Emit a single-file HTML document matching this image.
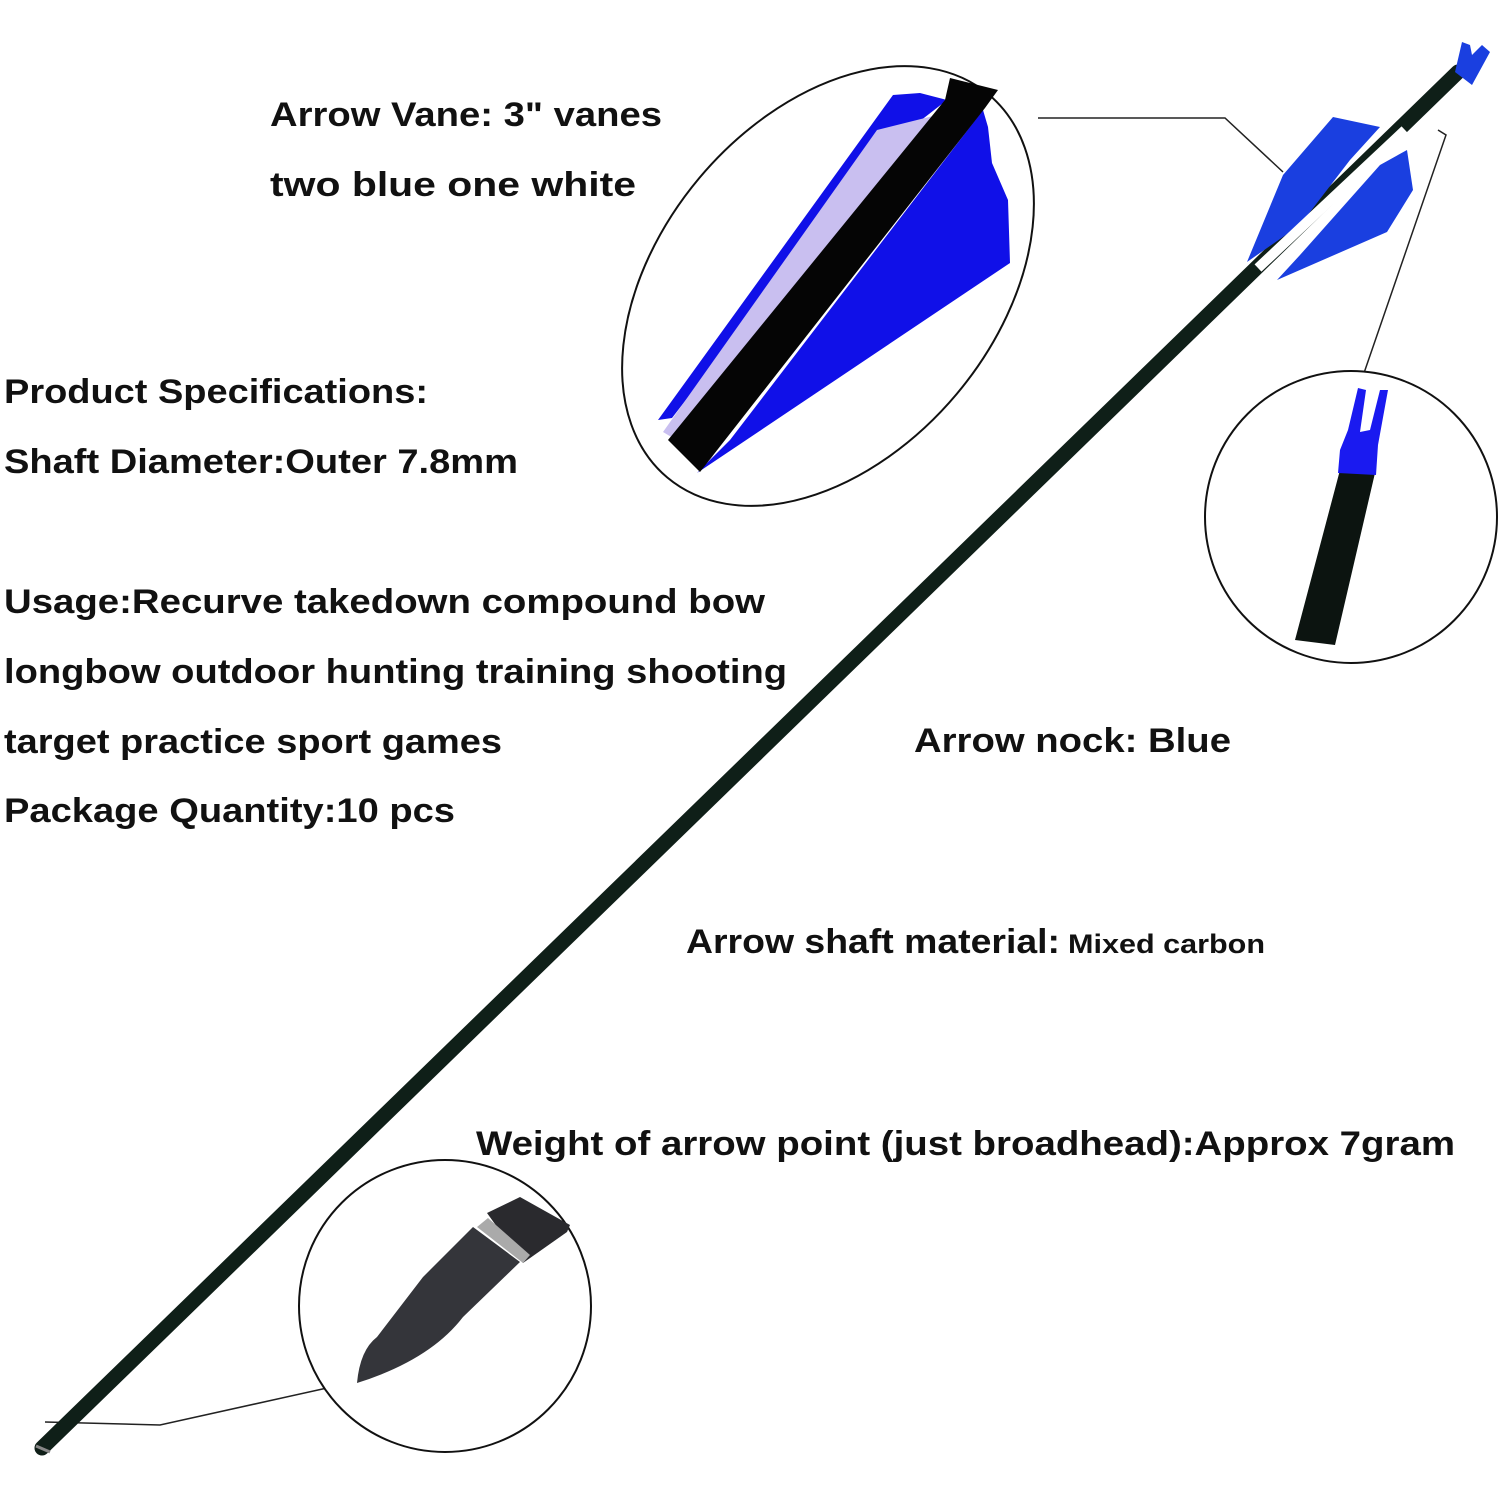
<!DOCTYPE html>
<html><head><meta charset="utf-8"><style>
html,body{margin:0;padding:0;background:#fff;}
svg{display:block}
text{font-family:"Liberation Sans",Arial,sans-serif;font-weight:bold;fill:#111;}
</style></head><body>
<svg width="1500" height="1500" viewBox="0 0 1500 1500" xmlns="http://www.w3.org/2000/svg">
<!-- connectors -->
<g stroke="#222" stroke-width="1.5" fill="none">
<polyline points="1038,118 1225,118 1283,172"/>
<polyline points="1364,373 1446,135 1438,130"/>
<polyline points="327,1388 160,1425 45,1422"/>
</g>
<!-- main shaft -->
<path d="M42,1448 Q700,810 1458,72" stroke="#0f1f18" stroke-width="15" stroke-linecap="round" fill="none"/>
<line x1="36" y1="1446" x2="50" y2="1452" stroke="#888" stroke-width="3"/>
<!-- main fletching -->
<polygon points="1247,262 1283,175 1333,117 1380,127 1350,160 1300,225" fill="#1a3fe0"/>
<polygon points="1277,280 1387,232 1413,190 1407,150 1380,165 1300,255" fill="#1a3fe0"/>
<line x1="1258" y1="268" x2="1405" y2="130" stroke="#fff" stroke-width="10"/>
<polygon points="1455,72 1462,42 1470,45 1472,55 1482,45 1490,52 1472,85" fill="#1a3fe0"/>
<!-- ellipse with fletching -->
<ellipse cx="828" cy="286" rx="250" ry="168" transform="rotate(-50 828 286)" fill="#fff" stroke="#111" stroke-width="2"/>
<polygon points="658,420 893,95 920,93 947,100 870,160 672,418" fill="#1010e8"/>
<polygon points="663,432 877,130 917,120 957,110 710,460" fill="#c9bff0"/>
<polygon points="697,473 1010,263 1008,200 992,163 988,127 983,110 730,440" fill="#1010e8"/>
<polygon points="668,440 945,100 950,78 998,90 985,108 700,472" fill="#050505"/>
<!-- nock circle -->
<circle cx="1351" cy="517" r="146" fill="#fff" stroke="#111" stroke-width="2"/>
<polygon points="1295,640 1335,645 1375,473 1340,470" fill="#0c1410"/>
<polygon points="1338,473 1376,475 1378,445 1388,390 1380,390 1370,430 1360,432 1366,390 1358,388 1348,430 1340,450" fill="#1a1af0"/>
<!-- point circle -->
<circle cx="445" cy="1306" r="146" fill="#fff" stroke="#111" stroke-width="2"/>
<polygon points="487,1213 520,1197 570,1225 567,1232 523,1263" fill="#2a2a2e"/>
<polygon points="477,1227 488,1218 530,1255 523,1263" fill="#aaa"/>
<path d="M357,1383 Q360,1350 377,1337 L423,1277 L473,1227 L520,1262 L463,1317 Q430,1360 357,1383 Z" fill="#34353a"/>
<!-- texts -->
<text x="270" y="126" font-size="34" textLength="392" lengthAdjust="spacingAndGlyphs">Arrow Vane: 3" vanes</text>
<text x="270" y="196" font-size="34" textLength="366" lengthAdjust="spacingAndGlyphs">two blue  one white</text>
<text x="4" y="403" font-size="34" textLength="424" lengthAdjust="spacingAndGlyphs">Product Specifications:</text>
<text x="4" y="473" font-size="34" textLength="514" lengthAdjust="spacingAndGlyphs">Shaft Diameter:Outer 7.8mm</text>
<text x="4" y="613" font-size="34" textLength="761" lengthAdjust="spacingAndGlyphs">Usage:Recurve takedown compound bow</text>
<text x="4" y="683" font-size="34" textLength="783" lengthAdjust="spacingAndGlyphs">longbow outdoor hunting training shooting</text>
<text x="4" y="753" font-size="34" textLength="498" lengthAdjust="spacingAndGlyphs">target practice sport games</text>
<text x="4" y="822" font-size="34" textLength="451" lengthAdjust="spacingAndGlyphs">Package Quantity:10 pcs</text>
<text x="914" y="752" font-size="34" textLength="317" lengthAdjust="spacingAndGlyphs">Arrow nock: Blue</text>
<text x="686" y="953" font-size="34" textLength="374" lengthAdjust="spacingAndGlyphs">Arrow shaft material:</text>
<text x="1068" y="953" font-size="27" textLength="197" lengthAdjust="spacingAndGlyphs">Mixed carbon</text>
<text x="476" y="1155" font-size="34" textLength="979" lengthAdjust="spacingAndGlyphs">Weight of arrow point (just broadhead):Approx 7gram</text>
</svg>
</body></html>
